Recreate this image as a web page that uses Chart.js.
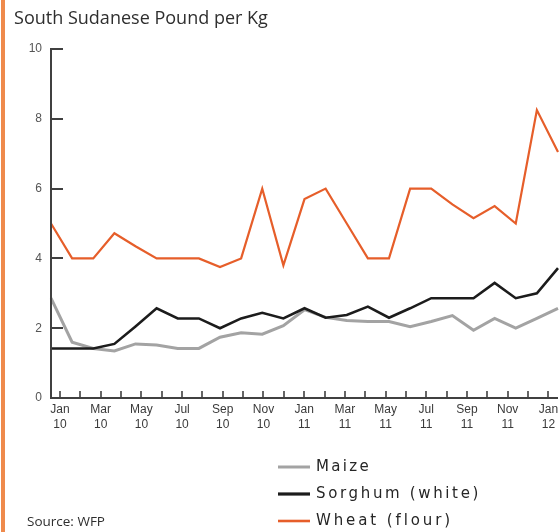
<!DOCTYPE html>
<html>
<head>
<meta charset="utf-8">
<script src="https://cdn.jsdelivr.net/npm/chart.js@4"></script>
<style>
  html, body { margin: 0; padding: 0; background: #ffffff; }
  #wrap { position: relative; width: 560px; height: 532px; }
</style>
</head>
<body>
<div id="wrap"><canvas id="c" width="560" height="532"></canvas></div>
<script>
// ---- data ----
const months = ['Jan 10','Feb 10','Mar 10','Apr 10','May 10','Jun 10','Jul 10','Aug 10','Sep 10','Oct 10','Nov 10','Dec 10',
                'Jan 11','Feb 11','Mar 11','Apr 11','May 11','Jun 11','Jul 11','Aug 11','Sep 11','Oct 11','Nov 11','Dec 11','Jan 12'];
const maize   = [2.86,1.60,1.42,1.35,1.55,1.52,1.42,1.42,1.74,1.87,1.83,2.07,2.53,2.31,2.22,2.19,2.19,2.04,2.19,2.36,1.94,2.28,2.00,2.28,2.57];
const sorghum = [1.42,1.42,1.42,1.55,2.05,2.57,2.28,2.28,2.00,2.28,2.44,2.28,2.57,2.30,2.38,2.62,2.30,2.57,2.86,2.86,2.86,3.30,2.86,3.00,3.72];
const wheat   = [5.00,4.00,4.00,4.72,4.35,4.00,4.00,4.00,3.75,4.00,6.00,3.80,5.70,6.00,5.00,4.00,4.00,6.00,6.00,5.55,5.15,5.50,5.00,8.25,7.05];
const xTickLabels = [['Jan','10'],'',['Mar','10'],'',['May','10'],'',['Jul','10'],'',['Sep','10'],'',['Nov','10'],'',
                     ['Jan','11'],'',['Mar','11'],'',['May','11'],'',['Jul','11'],'',['Sep','11'],'',['Nov','11'],'',['Jan','12']];
const yTicks = [0,2,4,6,8,10];
const seriesNames = ['Maize','Sorghum (white)','Wheat (flour)'];
const titleText = 'South Sudanese Pound per Kg';
const sourceText = 'Source: WFP';

// ---- styles ----
const C_MAIZE = '#a3a3a3', C_SORG = '#1c1c1c', C_WHEAT = '#e65e2a', C_AXIS = '#404040', C_TEXT = '#2e2e2e';

const decor = {
  id: 'decor',
  afterDraw(chart) {
    const ctx = chart.ctx;
    const y = chart.scales.y, xt = chart.scales.x2, ca = chart.chartArea;
    ctx.save();
    // left orange bar
    ctx.fillStyle = '#ef8a4c';
    ctx.fillRect(1, 0, 4, 532);
    // axes
    ctx.strokeStyle = C_AXIS; ctx.lineWidth = 2; ctx.lineCap = 'butt';
    ctx.beginPath();
    ctx.moveTo(ca.left, y.getPixelForValue(10) - 1);
    ctx.lineTo(ca.left, ca.bottom);
    ctx.lineTo(ca.right, ca.bottom);
    ctx.stroke();
    // y tick marks (inward)
    ctx.beginPath();
    yTicks.forEach(v => {
      const py = Math.round(y.getPixelForValue(v));
      ctx.moveTo(ca.left, py); ctx.lineTo(ca.left + 12, py);
    });
    ctx.stroke();
    // x tick marks (upward)
    ctx.lineWidth = 1.6;
    ctx.beginPath();
    for (let k = 0; k < xTickLabels.length; k++) {
      const px = Math.round(xt.getPixelForValue(k));
      ctx.moveTo(px, ca.bottom); ctx.lineTo(px, ca.bottom - 7);
    }
    ctx.stroke();

    // title
    ctx.fillStyle = C_TEXT;
    ctx.textBaseline = 'middle';
    ctx.textAlign = 'left';
    let fs = 15;
    ctx.font = '500 ' + fs + 'px "Open Sans"';
    fs = fs * 254 / ctx.measureText(titleText).width;
    ctx.font = '500 ' + fs.toFixed(2) + 'px "Open Sans"';
    ctx.fillText(titleText, 14, 19);

    // source
    let ss = 11;
    ctx.font = ss + 'px "Open Sans"';
    ss = ss * 78 / ctx.measureText(sourceText).width;
    ctx.font = ss.toFixed(2) + 'px "Open Sans"';
    ctx.fillText(sourceText, 27, 522);

    // legend
    const cols = [C_MAIZE, C_SORG, C_WHEAT];
    const widths = [3, 3.2, 2.6];
    const targets = [55, 165, 137];
    const ly = [467, 494, 521];
    ctx.font = '15px "DejaVu Sans"';
    ctx.fillStyle = '#262626';
    for (let i = 0; i < 3; i++) {
      ctx.strokeStyle = cols[i]; ctx.lineWidth = widths[i];
      ctx.beginPath(); ctx.moveTo(278, ly[i]); ctx.lineTo(310, ly[i]); ctx.stroke();
      ctx.letterSpacing = '0px';
      const w0 = ctx.measureText(seriesNames[i]).width;
      const sp = Math.max(0, (targets[i] - w0) / seriesNames[i].length);
      ctx.letterSpacing = sp.toFixed(2) + 'px';
      ctx.fillText(seriesNames[i], 316, ly[i]);
    }
    ctx.letterSpacing = '0px';
    ctx.restore();
  }
};

new Chart(document.getElementById('c'), {
  type: 'line',
  data: {
    labels: months,
    datasets: [
      { label: seriesNames[2], data: wheat,   borderColor: C_WHEAT, borderWidth: 2.2, pointRadius: 0, tension: 0, fill: false },
      { label: seriesNames[1], data: sorghum, borderColor: C_SORG,  borderWidth: 2.6, pointRadius: 0, tension: 0, fill: false },
      { label: seriesNames[0], data: maize,   borderColor: C_MAIZE, borderWidth: 3,   pointRadius: 0, tension: 0, fill: false }
    ]
  },
  options: {
    responsive: false,
    animation: false,
    events: [],
    layout: { padding: { top: 49, left: 0, right: 2, bottom: 94 } },
    plugins: { legend: { display: false }, title: { display: false }, tooltip: { enabled: false } },
    scales: {
      x: {
        type: 'category', offset: false, display: false,
        grid: { display: false }
      },
      x2: {
        type: 'linear', position: 'bottom', min: -0.442, max: 24.472,
        grid: { display: false, drawTicks: false }, border: { display: false },
        afterBuildTicks: (s) => { s.ticks = xTickLabels.map((_, k) => ({ value: k })); },
        afterFit: (s) => { s.height = 40; s.paddingLeft = 0; s.paddingRight = 0; },
        ticks: {
          autoSkip: false, maxRotation: 0, minRotation: 0, padding: 4,
          color: '#3a3a3a', font: { family: '"Liberation Sans"', size: 12, lineHeight: 1.25 },
          callback: (v) => { const k = Math.round(v); return xTickLabels[k] !== undefined ? xTickLabels[k] : ''; }
        }
      },
      y: {
        min: 0, max: 10,
        grid: { display: false, drawTicks: false }, border: { display: false },
        afterBuildTicks: (s) => { s.ticks = yTicks.map(v => ({ value: v })); },
        afterFit: (s) => { s.width = 51; s.paddingTop = 0; s.paddingBottom = 0; },
        ticks: { padding: 9, color: '#555', font: { family: '"Liberation Sans"', size: 12 } }
      }
    }
  },
  plugins: [decor]
});
</script>
</body>
</html>
